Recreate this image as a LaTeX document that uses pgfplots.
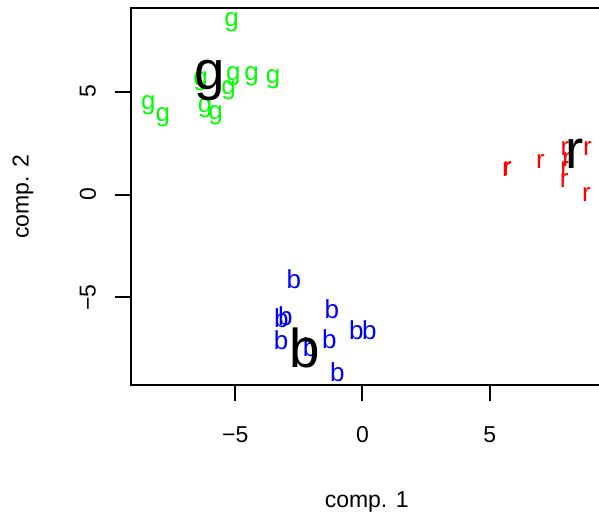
\documentclass[border=0pt]{standalone}
\usepackage{pgfplots}
\pgfplotsset{compat=1.18}
\usepackage{fontspec}
\setmainfont{Liberation Sans}
\begin{document}
\begin{tikzpicture}
\begin{axis}[name=ax, scale only axis, width=354.2pt, height=282.5pt,
  xmin=-9.115, xmax=9.45, ymin=-9.25, ymax=9.04,
  clip=false,
  axis line style={line width=1.5pt},
  xtick={-5,0,5}, xticklabels={−5,0,5},
  ytick={-5,0,5}, yticklabels={−5,0,5},
  tick align=outside, major tick length=12pt, tick pos=left,
  every tick/.style={black, line width=1.5pt},
  tick label style={font=\fontsize{17.25}{20}\selectfont},
  xticklabel style={anchor=center}, xticklabel shift=25pt,
  yticklabel style={rotate=90, anchor=center}, yticklabel shift=20pt,
  xlabel={comp. 1}, ylabel={comp. 2},
  label style={font=\fontsize{17.25}{20}\selectfont},
  xlabel style={at={([yshift=-87.5pt]axis description cs:0.5,0)}, anchor=center},
  ylabel style={at={([xshift=-80.7pt]axis description cs:0,0.5)}, anchor=center},
  text mark as node=true,
]
\addplot[green, only marks, mark=text, text mark={g},
  text mark style={font=\fontsize{19.5}{20}\selectfont, inner sep=0pt, anchor=center}] coordinates {
  (-5.14,8.36) (-6.36,5.48) (-5.08,5.72) (-5.26,5.07) (-4.36,5.72)
  (-3.51,5.61) (-8.42,4.34) (-7.85,3.75) (-6.19,4.18) (-5.77,3.83)
};
\addplot[red, only marks, mark=text, text mark={r},
  text mark style={font=\fontsize{19.5}{20}\selectfont, inner sep=0pt, anchor=center}] coordinates {
  (5.66,1.22) (5.70,1.26) (7.00,1.58) (7.96,2.21) (8.84,2.21)
  (7.95,1.24) (8.03,1.72) (7.93,0.67) (8.81,0.02)
};
\addplot[blue, only marks, mark=text, text mark={b},
  text mark style={font=\fontsize{19.5}{20}\selectfont, inner sep=0pt, anchor=center}] coordinates {
  (-2.70,-4.09) (-3.19,-6.01) (-3.03,-5.93) (-1.20,-5.59) (-3.20,-7.06)
  (-1.30,-7.01) (-0.24,-6.61) (0.27,-6.58) (-2.06,-7.42) (-0.99,-8.62)
};
\addplot[black, only marks, mark=text, text mark={g},
  text mark style={font=\fontsize{41}{44}\selectfont, inner sep=0pt, anchor=center}] coordinates {(-5.99,5.56)};
\addplot[black, only marks, mark=text, text mark={r},
  text mark style={font=\fontsize{41}{44}\selectfont, inner sep=0pt, anchor=center}] coordinates {(8.35,1.97)};
\addplot[black, only marks, mark=text, text mark={b},
  text mark style={font=\fontsize{41}{44}\selectfont, inner sep=0pt, anchor=center}] coordinates {(-2.26,-7.47)};
\end{axis}
\pgfresetboundingbox
\useasboundingbox ([shift={(-97.95pt,-96.75pt)}]ax.south west) rectangle ++(449.25pt,385.5pt);
\end{tikzpicture}
\end{document}
